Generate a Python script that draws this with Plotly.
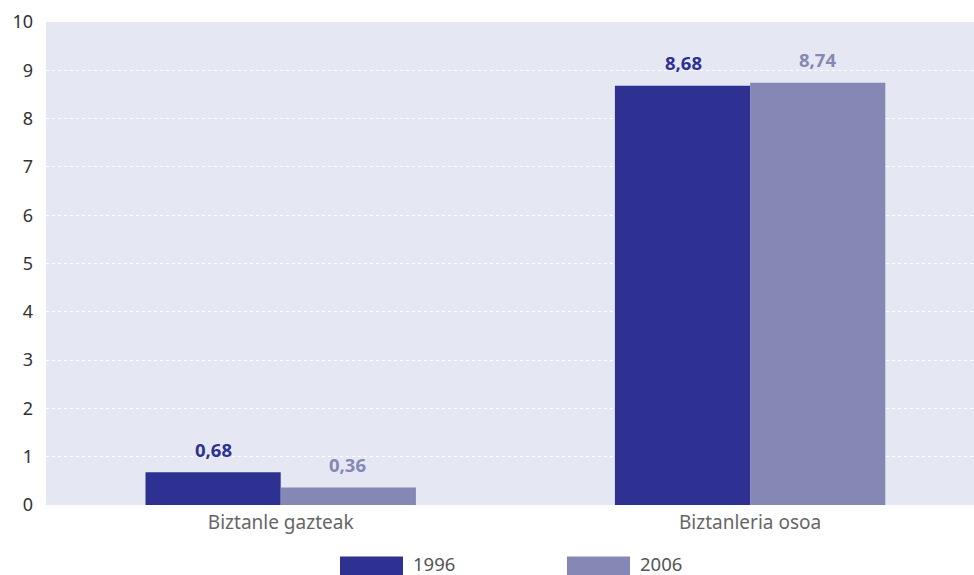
import plotly.graph_objects as go

categories = ["Biztanle gazteak", "Biztanleria osoa"]
series_names = ["1996", "2006"]
values_1996 = [0.68, 8.68]
values_2006 = [0.36, 8.74]
colors = ["#2e3192", "#8587b5"]
y_ticks = list(range(0, 11))

series_values = [values_1996, values_2006]
FONT = "Noto Sans"

fig = go.Figure()
for name, vals, col in zip(series_names, series_values, colors):
    fig.add_trace(go.Bar(x=categories, y=vals, name=name, marker=dict(color=col, line=dict(width=0)),
                         showlegend=False))

# value labels
offsets = [-67, 67]
for vals, col, off in zip(series_values, colors, offsets):
    for c, v in zip(categories, vals):
        fig.add_annotation(x=c, y=v, text="<b>" + f"{v:.2f}".replace(".", ",") + "</b>",
                           showarrow=False, xshift=off, yshift=23,
                           font=dict(family=FONT, size=18.5, color=col))

# custom legend
leg_x = [340, 567]
for name, col, lx in zip(series_names, colors, leg_x):
    fig.add_shape(type="rect", xref="paper", yref="paper",
                  x0=(lx - 46) / 928, x1=(lx + 63 - 46) / 928,
                  y0=(505.5 - 576) / 483.5, y1=(505.5 - 557) / 483.5,
                  fillcolor=col, line=dict(width=0))
    fig.add_annotation(xref="paper", yref="paper", x=(lx + 72 - 46) / 928, y=(505.5 - 564) / 483.5,
                       text=name, showarrow=False, xanchor="left", yanchor="middle", borderpad=0,
                       font=dict(family=FONT, size=18.5, color="#555555"))

fig.update_layout(
    width=974, height=575,
    margin=dict(l=46, r=0, t=22, b=69.5, pad=0),
    plot_bgcolor="#e5e7f2", paper_bgcolor="white",
    barmode="group", bargap=0.424, bargroupgap=0,
    separators=",.",
    font=dict(family=FONT, size=18, color="#333333"),
    xaxis=dict(range=[-0.5, 1.477], showgrid=False, showline=False, ticks="",
               ticklabelstandoff=4,
               tickfont=dict(family=FONT, size=19, color="#666666")),
    yaxis=dict(range=[0, 10], tickvals=y_ticks, showgrid=True, gridcolor="white",
               griddash="dot", gridwidth=1, zeroline=False, showline=False, ticks="",
               ticklabelstandoff=12,
               tickfont=dict(family=FONT, size=18, color="#333333")),
)
fig.write_html("out.html", config={"displayModeBar": False},
               post_script="document.body.style.margin='0';document.body.style.overflow='hidden';")
